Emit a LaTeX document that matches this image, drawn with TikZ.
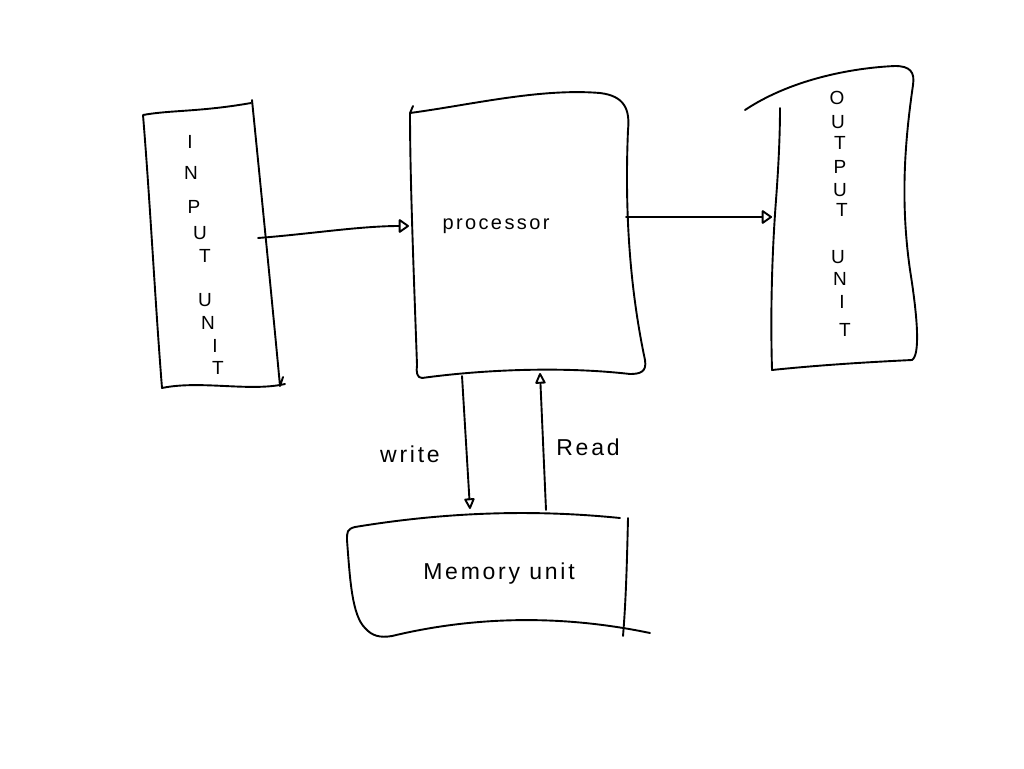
\documentclass[tikz,border=0pt]{standalone}
\usepackage{fontspec}
\setmainfont{Liberation Sans}
\newfontfamily\hand[LetterSpace=12]{Liberation Sans}
\usetikzlibrary{arrows.meta}
\begin{document}
\begin{tikzpicture}[x=1pt,y=-1pt,
  pen/.style={draw=black, line width=1.9pt, line cap=round, line join=round},
  tipo/.style={-{Triangle[open,length=11pt,width=15pt,round]}},
  tipv/.style={-{Triangle[open,length=12pt,width=11pt,round]}},
  lbl/.style={font=\hand\fontsize{20}{24}\selectfont, inner sep=0pt},
  lblb/.style={font=\hand\fontsize{23}{27}\selectfont, inner sep=0pt},
  vl/.style={font=\fontsize{19}{22}\selectfont, inner sep=0pt}]
\useasboundingbox (0,0) rectangle (1024,768);
\fill[white] (0,0) rectangle (1024,768);

% input unit
\draw[pen] (251,103) .. controls (200,112) and (170,110) .. (143,115)
  .. controls (150,200) and (155,300) .. (162,388)
  .. controls (200,380) and (250,392) .. (285,384);
\draw[pen] (252,100) .. controls (262,200) and (272,300) .. (280,386) -- (283,377);

% processor
\draw[pen] (413,106) -- (410,113) .. controls (470,105) and (540,88) .. (600,93)
  .. controls (625,96) and (630,110) .. (628,130)
  .. controls (625,200) and (628,280) .. (645,360)
  .. controls (647,372) and (640,374) .. (630,374)
  .. controls (560,366) and (480,370) .. (422,378)
  .. controls (417,378) and (416,372) .. (417,365)
  .. controls (414,280) and (410,180) .. (410,113);

% output unit
\draw[pen] (745,110) .. controls (790,80) and (850,68) .. (895,66)
  .. controls (910,66) and (915,72) .. (913,85)
  .. controls (905,140) and (900,200) .. (910,270)
  .. controls (918,320) and (920,355) .. (912,360)
  .. controls (870,362) and (820,365) .. (772,370)
  .. controls (770,300) and (773,240) .. (776,200)
  .. controls (779,160) and (780,130) .. (780,108);

% memory unit
\draw[pen] (620,518) .. controls (560,512) and (470,508) .. (355,527)
  .. controls (347,529) and (347,532) .. (347,540)
  .. controls (350,580) and (352,615) .. (365,628)
  .. controls (372,636) and (380,638) .. (392,636)
  .. controls (450,622) and (540,610) .. (650,633);
\draw[pen] (628,518) .. controls (627,560) and (626,600) .. (623,636);

% connectors
\coordinate (inOut) at (258,238); \coordinate (procIn) at (409,226);
\draw[pen,tipo] (inOut) .. controls (310,234) and (360,226) .. (procIn);
\coordinate (procOut) at (626,217); \coordinate (outIn) at (772,217);
\draw[pen,tipo] (procOut) -- (outIn);
\coordinate (procW) at (462,376); \coordinate (memW) at (470,509);
\draw[pen,tipv] (procW) -- (memW);
\coordinate (memR) at (546,510); \coordinate (procR) at (540,373);
\draw[pen,tipv] (memR) -- (procR);

% labels
\node[lbl] (proc) at (496,226) {processor};
\node[lblb] (mem) at (499,574) {Memory unit};
\node[lblb] (wr) at (410,454) {write};
\node[lblb] (rd) at (588,447) {Read};

% INPUT UNIT
\node[vl] (i1) at (190,142) {I};
\node[vl] (i2) at (191,173) {N};
\node[vl] (i3) at (194,207) {P};
\node[vl] (i4) at (200,233) {U};
\node[vl] (i5) at (205,256) {T};
\node[vl] (i6) at (205,300) {U};
\node[vl] (i7) at (208,323) {N};
\node[vl] (i8) at (215,346) {I};
\node[vl] (i9) at (218,368) {T};

% OUTPUT UNIT
\node[vl] (o1) at (837,98) {O};
\node[vl] (o2) at (838,122) {U};
\node[vl] (o3) at (840,143) {T};
\node[vl] (o4) at (840,167) {P};
\node[vl] (o5) at (840,190) {U};
\node[vl] (o6) at (842,210) {T};
\node[vl] (o7) at (838,257) {U};
\node[vl] (o8) at (840,279) {N};
\node[vl] (o9) at (842,302) {I};
\node[vl] (o10) at (845,330) {T};
\end{tikzpicture}
\end{document}
